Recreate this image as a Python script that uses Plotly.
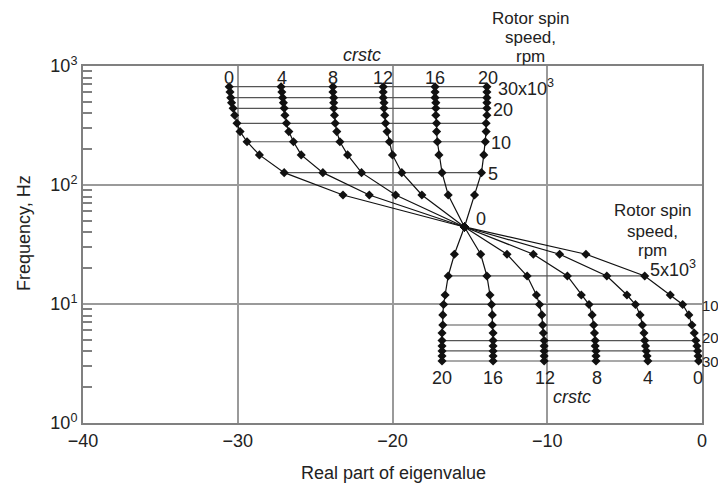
import plotly.graph_objects as go

# ---------------- data ----------------
crstc = [0, 4, 8, 12, 16, 20]
speed_krpm = [0, 2.5, 5, 7.5, 10, 12.5, 15, 17.5, 20, 22.5, 25, 27.5, 30]

# frequency (Hz) of forward (upper) and backward (lower) branches vs spin speed
freq_forward = [44.4, 82.4, 127, 179, 231, 281, 330, 386, 441, 492, 542, 605, 670]
freq_backward = [44.4, 26.2, 17.2, 11.9, 9.9, 8.1, 6.66, 5.7, 4.93, 4.44, 4.03, 3.66, 3.32]

# real part of eigenvalue, forward branch, one list per crstc
real_fwd_c0 = [-15.35, -23.2, -27.0, -28.6, -29.4, -29.85, -30.05, -30.2, -30.3, -30.4, -30.45, -30.5, -30.55]
real_fwd_c4 = [-15.35, -21.5, -24.5, -25.9, -26.4, -26.7, -26.85, -26.95, -27.0, -27.05, -27.1, -27.15, -27.2]
real_fwd_c8 = [-15.35, -19.8, -22.0, -22.9, -23.4, -23.6, -23.7, -23.75, -23.8, -23.8, -23.8, -23.85, -23.85]
real_fwd_c12 = [-15.35, -18.1, -19.4, -20.0, -20.2, -20.35, -20.45, -20.5, -20.55, -20.55, -20.6, -20.6, -20.6]
real_fwd_c16 = [-15.35, -16.4, -16.8, -17.0, -17.1, -17.15, -17.15, -17.2, -17.2, -17.2, -17.25, -17.25, -17.25]
real_fwd_c20 = [-15.35, -14.7, -14.25, -14.1, -14.0, -13.95, -13.95, -13.9, -13.9, -13.9, -13.9, -13.9, -13.9]

# real part of eigenvalue, backward branch
real_bwd_c0 = [-15.35, -7.5, -3.7, -2.05, -1.25, -0.85, -0.65, -0.5, -0.4, -0.33, -0.28, -0.25, -0.22]
real_bwd_c4 = [-15.35, -9.2, -6.15, -4.85, -4.3, -4.0, -3.85, -3.75, -3.7, -3.65, -3.6, -3.55, -3.5]
real_bwd_c8 = [-15.35, -10.9, -8.7, -7.8, -7.3, -7.1, -7.0, -6.95, -6.9, -6.9, -6.85, -6.85, -6.85]
real_bwd_c12 = [-15.35, -12.6, -11.3, -10.7, -10.5, -10.35, -10.3, -10.25, -10.2, -10.2, -10.2, -10.2, -10.2]
real_bwd_c16 = [-15.35, -14.3, -13.9, -13.7, -13.6, -13.55, -13.55, -13.5, -13.5, -13.5, -13.5, -13.5, -13.5]
real_bwd_c20 = [-15.35, -16.0, -16.4, -16.6, -16.7, -16.75, -16.75, -16.8, -16.8, -16.8, -16.8, -16.8, -16.8]

real_fwd = [real_fwd_c0, real_fwd_c4, real_fwd_c8, real_fwd_c12, real_fwd_c16, real_fwd_c20]
real_bwd = [real_bwd_c0, real_bwd_c4, real_bwd_c8, real_bwd_c12, real_bwd_c16, real_bwd_c20]

iso_speeds = [5, 10, 15, 20, 25, 30]  # krpm, constant-speed connecting lines

x_ticks = [-40, -30, -20, -10, 0]
y_ticks = [1, 10, 100, 1000]
y_ticktext = ["10<sup>0</sup>", "10<sup>1</sup>", "10<sup>2</sup>", "10<sup>3</sup>"]

# ---------------- figure ----------------
FONT = "Liberation Sans, Arial, Helvetica, sans-serif"
FS = 18
TXT = "#222222"
fig = go.Figure()

# iso-speed lines
for s in iso_speeds:
    i = speed_krpm.index(s)
    fig.add_trace(go.Scatter(x=[real_fwd[0][i], real_fwd[-1][i]], y=[freq_forward[i], freq_forward[i]],
                             mode="lines", line=dict(color="#555555", width=1.2), hoverinfo="skip"))
    fig.add_trace(go.Scatter(x=[real_bwd[0][i], real_bwd[-1][i]], y=[freq_backward[i], freq_backward[i]],
                             mode="lines", line=dict(color="#555555", width=1.2), hoverinfo="skip"))

# root-locus curves
for k, c in enumerate(crstc):
    for xs, ys in ((real_fwd[k], freq_forward), (real_bwd[k], freq_backward)):
        fig.add_trace(go.Scatter(x=xs, y=ys, mode="lines+markers",
                                 line=dict(color="#111111", width=1.2),
                                 marker=dict(symbol="diamond", size=7, color="#111111"),
                                 name=f"crstc {c}"))

# the page body has an 8px margin, so the figure is a little smaller than the window
W, H = 718, 479
L, R, T, B = 75, 24, 58, 64
# plot area in window pixels
PX0, PX1, PY0, PY1 = 83, 702, 66, 423


def px(xs):
    return (xs - PX0) / (PX1 - PX0)


def py(ys):
    return (PY1 - ys) / (PY1 - PY0)


ann = []


def text(t, xs, ys, size=FS, italic=False, xanchor="center", angle=0):
    if italic:
        t = f"<i>{t}</i>"
    ann.append(dict(text=t, x=px(xs), y=py(ys), xref="paper", yref="paper", showarrow=False,
                    xanchor=xanchor, yanchor="middle", textangle=angle, borderpad=0,
                    font=dict(family=FONT, size=size, color=TXT)))


# top labels
text("crstc", 362, 55, italic=True)
text("Rotor spin", 530, 18, size=17)
text("speed,", 530, 37, size=17)
text("rpm", 530, 56, size=17)
for lab, xs in zip(["0", "4", "8", "12", "16", "20"], [229, 282, 333, 383, 435, 488]):
    text(lab, xs, 78)
text("30x10<sup>3</sup>", 497, 87, xanchor="left")
text("20", 492, 110, xanchor="left")
text("10", 490, 143, xanchor="left")
text("5", 487, 174, xanchor="left")
text("0", 475, 219, xanchor="left")
# lower labels
text("Rotor spin", 652, 210, size=17)
text("speed,", 652, 231, size=17)
text("rpm", 652, 251, size=17)
text("5x10<sup>3</sup>", 649, 268, xanchor="left")
text("10", 701, 305, size=15, xanchor="left")
text("20", 701, 337, size=15, xanchor="left")
text("30", 701, 361, size=15, xanchor="left")
for lab, xs in zip(["20", "16", "12", "8", "4", "0"], [442, 493, 545, 597, 648, 698]):
    text(lab, xs, 378)
text("crstc", 572, 397, italic=True)
# axis titles
text("Real part of eigenvalue", 393, 473)
text("Frequency, Hz", 24, 233, angle=-90)

minor_vals = [m * 10 ** d for d in range(0, 3) for m in range(2, 10)]

fig.update_layout(
    width=W, height=H, margin=dict(l=L, r=R, t=T, b=B),
    plot_bgcolor="white", paper_bgcolor="white", showlegend=False,
    font=dict(family=FONT, size=FS, color=TXT),
    annotations=ann,
    xaxis=dict(range=[-40, 0], tickmode="array", tickvals=x_ticks, ticks="",
               showgrid=True, gridcolor="#9a9a9a", gridwidth=1.5, zeroline=False,
               showline=True, linecolor="#808080", linewidth=2, mirror=True,
               tickfont=dict(family=FONT, size=FS, color=TXT)),
    yaxis=dict(type="log", range=[0, 3], tickmode="array", tickvals=y_ticks, ticktext=y_ticktext,
               ticks="", showgrid=True, gridcolor="#9a9a9a", gridwidth=1.5, zeroline=False,
               showline=True, linecolor="#808080", linewidth=2, mirror=True,
               tickfont=dict(family=FONT, size=FS, color=TXT),
               minor=dict(tickmode="array", tickvals=minor_vals, ticks="inside", ticklen=9,
                          tickcolor="#808080", tickwidth=1.5, showgrid=False)),
)

fig.write_html("out.html")
